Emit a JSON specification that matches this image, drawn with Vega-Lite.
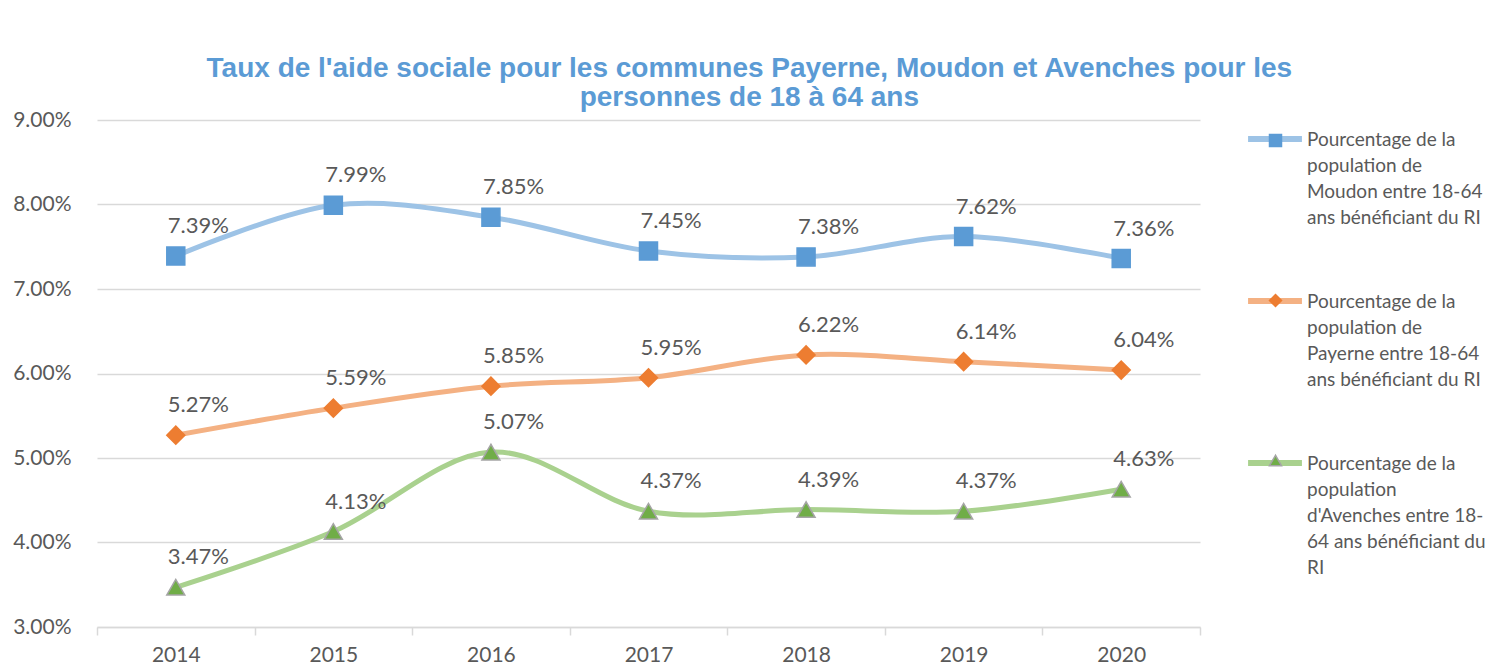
{
  "$schema": "https://vega.github.io/schema/vega-lite/v6.json",
  "width": 1103,
  "height": 507,
  "autosize": {"type": "none"},
  "padding": {"left": 97, "top": 120, "right": 294, "bottom": 43},
  "background": "white",
  "title": {
    "text": ["Taux de l'aide sociale pour les communes Payerne, Moudon et Avenches pour les", "personnes de 18 à 64 ans"],
    "font": "Liberation Sans",
    "fontSize": 28,
    "fontWeight": "bold",
    "color": "#5B9BD5",
    "anchor": "middle",
    "frame": "bounds",
    "lineHeight": 29,
    "offset": -3
  },
  "data": {
    "values": [
      {"annee": "2014", "commune": "Moudon", "taux": 0.0739},
      {"annee": "2015", "commune": "Moudon", "taux": 0.0799},
      {"annee": "2016", "commune": "Moudon", "taux": 0.0785},
      {"annee": "2017", "commune": "Moudon", "taux": 0.0745},
      {"annee": "2018", "commune": "Moudon", "taux": 0.0738},
      {"annee": "2019", "commune": "Moudon", "taux": 0.0762},
      {"annee": "2020", "commune": "Moudon", "taux": 0.0736},
      {"annee": "2014", "commune": "Payerne", "taux": 0.0527},
      {"annee": "2015", "commune": "Payerne", "taux": 0.0559},
      {"annee": "2016", "commune": "Payerne", "taux": 0.0585},
      {"annee": "2017", "commune": "Payerne", "taux": 0.0595},
      {"annee": "2018", "commune": "Payerne", "taux": 0.0622},
      {"annee": "2019", "commune": "Payerne", "taux": 0.0614},
      {"annee": "2020", "commune": "Payerne", "taux": 0.0604},
      {"annee": "2014", "commune": "Avenches", "taux": 0.0347},
      {"annee": "2015", "commune": "Avenches", "taux": 0.0413},
      {"annee": "2016", "commune": "Avenches", "taux": 0.0507},
      {"annee": "2017", "commune": "Avenches", "taux": 0.0437},
      {"annee": "2018", "commune": "Avenches", "taux": 0.0439},
      {"annee": "2019", "commune": "Avenches", "taux": 0.0437},
      {"annee": "2020", "commune": "Avenches", "taux": 0.0463}
    ]
  },
  "encoding": {
    "x": {
      "field": "annee",
      "type": "ordinal",
      "scale": {"type": "band", "paddingInner": 0, "paddingOuter": 0},
      "axis": {
        "title": null,
        "labelAngle": 0,
        "tickBand": "extent",
        "domainColor": "#D9D9D9",
        "domainWidth": 1.5,
        "tickColor": "#D9D9D9",
        "tickWidth": 1.5,
        "tickSize": 8,
        "grid": false,
        "labelFont": "Lato",
        "labelFontSize": 21,
        "labelColor": "#595959",
        "labelPadding": 9
      }
    },
    "y": {
      "field": "taux",
      "type": "quantitative",
      "scale": {"domain": [0.03, 0.09], "nice": false, "zero": false},
      "axis": {
        "title": null,
        "format": ".2%",
        "values": [0.03, 0.04, 0.05, 0.06, 0.07, 0.08, 0.09],
        "domain": false,
        "ticks": false,
        "grid": true,
        "gridColor": "#D9D9D9",
        "gridWidth": 1.5,
        "labelFont": "Lato",
        "labelFontSize": 21,
        "labelColor": "#595959",
        "labelPadding": 26
      }
    }
  },
  "layer": [
    {
      "mark": {"type": "line", "interpolate": "cardinal", "strokeWidth": 5},
      "encoding": {
        "color": {
          "field": "commune",
          "type": "nominal",
          "sort": ["Moudon", "Payerne", "Avenches"],
          "scale": {"range": ["#9DC3E6", "#F4B183", "#A9D18E"]},
          "legend": {
            "title": null,
            "orient": "none",
            "legendX": 1148,
            "legendY": -4,
            "padding": 0,
            "symbolType": "M-1,-0.26L1,-0.26",
            "symbolSize": 2900,
            "symbolStrokeWidth": 6,
            "labelFont": "Lato",
            "labelFontSize": 19,
            "labelColor": "#595959",
            "labelLimit": 400,
            "labelOffset": 2,
            "labelBaseline": "alphabetic",
            "rowPadding": 50,
            "labelExpr": "datum.label == 'Moudon' ? ['Pourcentage de la', 'population de', 'Moudon entre 18-64', 'ans bénéficiant du RI'] : datum.label == 'Payerne' ? ['Pourcentage de la', 'population de', 'Payerne entre 18-64', 'ans bénéficiant du RI'] : ['Pourcentage de la', 'population', \"d'Avenches entre 18-\", '64 ans bénéficiant du', 'RI']"
          }
        }
      }
    },
    {
      "mark": {"type": "point", "filled": true, "size": 324, "opacity": 1, "strokeWidth": 1.5},
      "encoding": {
        "fill": {
          "field": "commune",
          "type": "nominal",
          "scale": {"domain": ["Moudon", "Payerne", "Avenches"], "range": ["#5B9BD5", "#ED7D31", "#70AD47"]},
          "legend": {
            "title": null,
            "orient": "none",
            "legendX": 1169,
            "legendY": 11,
            "padding": 0,
            "symbolSize": 144,
            "symbolStrokeWidth": 1.5,
            "labelFont": "Lato",
            "labelFontSize": 19,
            "labelOpacity": 0,
            "labelLimit": 400,
            "labelOffset": 2,
            "labelBaseline": "alphabetic",
            "rowPadding": 62,
            "labelExpr": "datum.label == 'Avenches' ? [' ', ' ', ' ', ' ', ' '] : [' ', ' ', ' ', ' ']"
          }
        },
        "stroke": {
          "field": "commune",
          "type": "nominal",
          "scale": {"domain": ["Moudon", "Payerne", "Avenches"], "range": ["#5B9BD5", "#ED7D31", "#A5A5A5"]}
        },
        "shape": {
          "field": "commune",
          "type": "nominal",
          "scale": {"domain": ["Moudon", "Payerne", "Avenches"], "range": ["square", "diamond", "triangle-up"]}
        }
      }
    },
    {
      "mark": {"type": "text", "align": "left", "baseline": "alphabetic", "dx": -8, "dy": -23, "font": "Lato", "fontSize": 22, "color": "#595959"},
      "encoding": {
        "text": {"field": "taux", "type": "quantitative", "format": ".2%"}
      }
    }
  ],
  "config": {
    "view": {"stroke": null},
    "style": {"guide-label": {"lineHeight": 26}}
  }
}
